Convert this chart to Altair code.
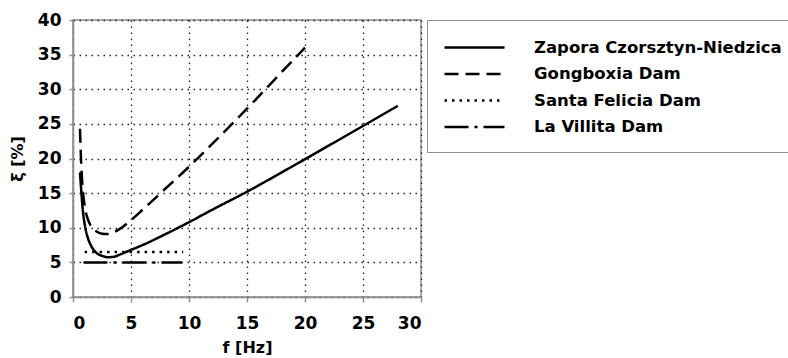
import altair as alt
import pandas as pd

# Damping ratio vs. frequency for four dams
series_names = [
    "Zapora Czorsztyn-Niedzica",
    "Gongboxia Dam",
    "Santa Felicia Dam",
    "La Villita Dam",
]

czorsztyn_f = [0.6, 0.7, 0.85, 1.0, 1.25, 1.5, 2.0, 2.5, 3.0, 3.5, 4.0, 4.5,
               5.0, 6.0, 8.0, 10.0, 12.0, 15.0, 18.0, 20.0, 25.0, 28.0]
czorsztyn_xi = [18.0, 15.6, 12.5, 10.6, 8.7, 7.6, 6.4, 5.95, 5.75, 5.8, 6.1, 6.45,
                6.8, 7.5, 9.1, 10.8, 12.6, 15.2, 18.0, 19.9, 24.7, 27.6]

gongboxia_f = [0.6, 0.7, 0.8, 1.0, 1.25, 1.5, 2.0, 2.5, 3.0, 3.5, 4.0, 5.0,
               6.0, 8.0, 10.0, 12.0, 15.0, 18.0, 20.0]
gongboxia_xi = [24.3, 19.5, 16.5, 13.2, 11.4, 10.4, 9.5, 9.15, 9.1, 9.35, 9.8, 11.1,
                12.6, 15.7, 18.8, 22.1, 27.2, 32.5, 36.0]

santa_felicia_f = [1.0, 9.5]
santa_felicia_xi = [6.5, 6.5]

la_villita_f = [0.9, 9.4]
la_villita_xi = [5.0, 5.0]

x_ticks = [0, 5, 10, 15, 20, 25, 30]
y_ticks = [0, 5, 10, 15, 20, 25, 30, 35, 40]

frames = []
for name, fs, xis in zip(
    series_names,
    [czorsztyn_f, gongboxia_f, santa_felicia_f, la_villita_f],
    [czorsztyn_xi, gongboxia_xi, santa_felicia_xi, la_villita_xi],
):
    frames.append(pd.DataFrame({"series": name, "f": fs, "xi": xis}))
data = pd.concat(frames, ignore_index=True)

FONT = "DejaVu Sans"
GRAY = "#8f8f8f"

dash_patterns = [[1, 0], [14, 7], [2.5, 5], [24, 6, 3, 6]]

chart = (
    alt.Chart(data)
    .mark_line(color="black", strokeWidth=2.5, interpolate="monotone")
    .encode(
        x=alt.X(
            "f:Q",
            scale=alt.Scale(domain=[0, 30], nice=False),
            axis=alt.Axis(
                values=x_ticks,
                title="f [Hz]",
                titlePadding=8,
                labelPadding=13,
                tickSize=5,
            ),
        ),
        y=alt.Y(
            "xi:Q",
            scale=alt.Scale(domain=[0, 40], nice=False),
            axis=alt.Axis(
                values=y_ticks,
                title="ξ [%]",
                titlePadding=12,
                labelPadding=8,
                tickSize=4,
            ),
        ),
        strokeDash=alt.StrokeDash(
            "series:N",
            scale=alt.Scale(domain=series_names, range=dash_patterns),
            legend=alt.Legend(
                title=None,
                orient="none",
                legendX=354,
                legendY=0,
                padding=16,
                strokeColor=GRAY,
                fillColor="white",
                symbolType="M-1,0H5",
                symbolSize=400,
                symbolStrokeWidth=2.5,
                symbolStrokeColor="black",
                labelOffset=68,
                rowPadding=6.5,
                labelFont=FONT,
                labelFontSize=16.5,
                labelFontWeight="bold",
                labelColor="black",
                labelLimit=400,
            ),
        ),
        detail="series:N",
        order="f:Q",
    )
    .properties(
        width=348,
        height=277,
        autosize=alt.AutoSizeParams(type="none"),
        padding={"left": 73, "top": 20, "right": 367, "bottom": 61},
    )
    .configure_view(stroke=GRAY, strokeWidth=1.5)
    .configure_axis(
        domainColor=GRAY,
        domainWidth=1.5,
        tickColor=GRAY,
        tickWidth=1.5,
        grid=True,
        gridColor="#222222",
        gridDash=[1.5, 4.5],
        gridWidth=1.3,
        labelFont=FONT,
        labelFontSize=17,
        labelFontWeight="bold",
        labelColor="black",
        titleFont=FONT,
        titleFontSize=16,
        titleFontWeight="bold",
        titleColor="black",
    )
)

chart.save("out.html", embed_options={"renderer": "svg", "actions": False})
